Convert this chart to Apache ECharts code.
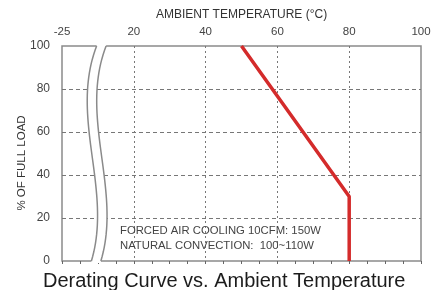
<!DOCTYPE html>
<html><head><meta charset="utf-8">
<script src="https://cdn.jsdelivr.net/npm/echarts@6/dist/echarts.min.js"></script>
<style>html,body{margin:0;padding:0;background:#fff}#c{width:440px;height:290px}</style>
</head><body><div id="c"></div>
<script>
// x positions on a broken axis: position 0 is labelled -25, 20..100 are real °C
const xTickLabels = {0: '-25', 20: '20', 40: '40', 60: '60', 80: '80', 100: '100'};
const yTicks = [0, 20, 40, 60, 80, 100];
const tempValues = [50, 80, 80];
const loadValues = [100, 30, 0];
// axis-break curve (bezier control points in axis units) and gap width
const breakLeft = [[9.64, 100], [1.99, 66.7], [14.17, 33.3], [8.19, 0]];
const breakGap = 2.64;
const xName = 'AMBIENT TEMPERATURE (\u00B0C)';
const yName = '% OF FULL LOAD';
const notes = ['FORCED AIR COOLING 10CFM: 150W', 'NATURAL CONVECTION:  100~110W'];
const chartTitle = 'Derating Curve vs. Ambient Temperature';

const FONT = "'Liberation Sans', Arial, sans-serif";
const FRAME = '#8a8a8a';

function bez(p, t) {
  const u = 1 - t;
  const a = u * u * u, b = 3 * u * u * t, c = 3 * u * t * t, d = t * t * t;
  return [a * p[0][0] + b * p[1][0] + c * p[2][0] + d * p[3][0],
          a * p[0][1] + b * p[1][1] + c * p[2][1] + d * p[3][1]];
}

const chart = echarts.init(document.getElementById('c'), null, {renderer: 'canvas'});
chart.setOption({
  animation: false,
  backgroundColor: '#fff',
  textStyle: {fontFamily: FONT},
  grid: {left: 62, right: 19, top: 46, bottom: 29, show: true, borderColor: FRAME, borderWidth: 1.5, backgroundColor: 'transparent'},
  xAxis: {
    type: 'value', position: 'top', min: 0, max: 100, interval: 20,
    name: xName, nameLocation: 'middle', nameGap: 21,
    nameTextStyle: {fontSize: 12, color: '#333', fontFamily: FONT},
    axisLine: {show: false},
    axisTick: {show: true, inside: true, length: 3, lineStyle: {color: '#666'}},
    minorTick: {show: true, splitNumber: 4, length: 3, lineStyle: {color: '#666'}},
    axisLabel: {formatter: v => xTickLabels[v] || '', fontSize: 11.5, color: '#444', margin: 8, fontFamily: FONT},
    splitLine: {show: true, showMinLine: false, showMaxLine: false, lineStyle: {type: [2, 3], color: '#777', width: 1}}
  },
  yAxis: {
    type: 'value', min: yTicks[0], max: yTicks[yTicks.length - 1], interval: 20,
    axisLine: {show: false}, axisTick: {show: false},
    axisLabel: {fontSize: 12, color: '#444', margin: 12, fontFamily: FONT},
    splitLine: {show: true, showMinLine: false, showMaxLine: false, lineStyle: {type: [4, 3], color: '#777', width: 1}}
  },
  series: [
    {
      type: 'line', data: tempValues.map((t, i) => [t, loadValues[i]]),
      symbol: 'none', z: 5,
      lineStyle: {color: '#d42b2b', width: 3.5}
    },
    {
      type: 'custom', z: 4, clip: false, silent: true,
      data: [[0, 0]],
      renderItem: function (params, api) {
        const L = breakLeft.map(p => api.coord(p));
        const R = breakLeft.map(p => api.coord([p[0] + breakGap, p[1]]));
        const N = 48, lp = [], rp = [];
        for (let i = 0; i <= N; i++) { lp.push(bez(L, i / N)); rp.push(bez(R, i / N)); }
        const fill = [[lp[0][0], lp[0][1] - 2]].concat(lp, [[lp[N][0], lp[N][1] + 2], [rp[N][0], rp[N][1] + 2]],
          rp.slice().reverse(), [[rp[0][0], rp[0][1] - 2]]);
        return {type: 'group', children: [
          {type: 'polygon', shape: {points: fill}, style: {fill: '#fff', stroke: null}},
          {type: 'polyline', shape: {points: lp}, style: {stroke: FRAME, lineWidth: 1.5, fill: null}},
          {type: 'polyline', shape: {points: rp}, style: {stroke: FRAME, lineWidth: 1.5, fill: null}}
        ]};
      }
    }
  ],
  graphic: [
    {type: 'text', x: 22, y: 163, rotation: Math.PI / 2, z: 10,
     style: {text: yName, fontSize: 11.5, fill: '#333', fontFamily: FONT, align: 'center', verticalAlign: 'middle'}},
    {type: 'text', left: 120, top: 225.5, z: 10, style: {text: notes[0], fontSize: 11.3, fill: '#444', fontFamily: FONT}},
    {type: 'text', left: 120, top: 240.5, z: 10, style: {text: notes[1], fontSize: 11.3, fill: '#444', fontFamily: FONT}},
    {type: 'text', left: 43, top: 271, z: 10, style: {text: chartTitle, fontSize: 20, fill: '#1c1c1c', fontFamily: FONT}}
  ]
});
</script>
</body></html>
